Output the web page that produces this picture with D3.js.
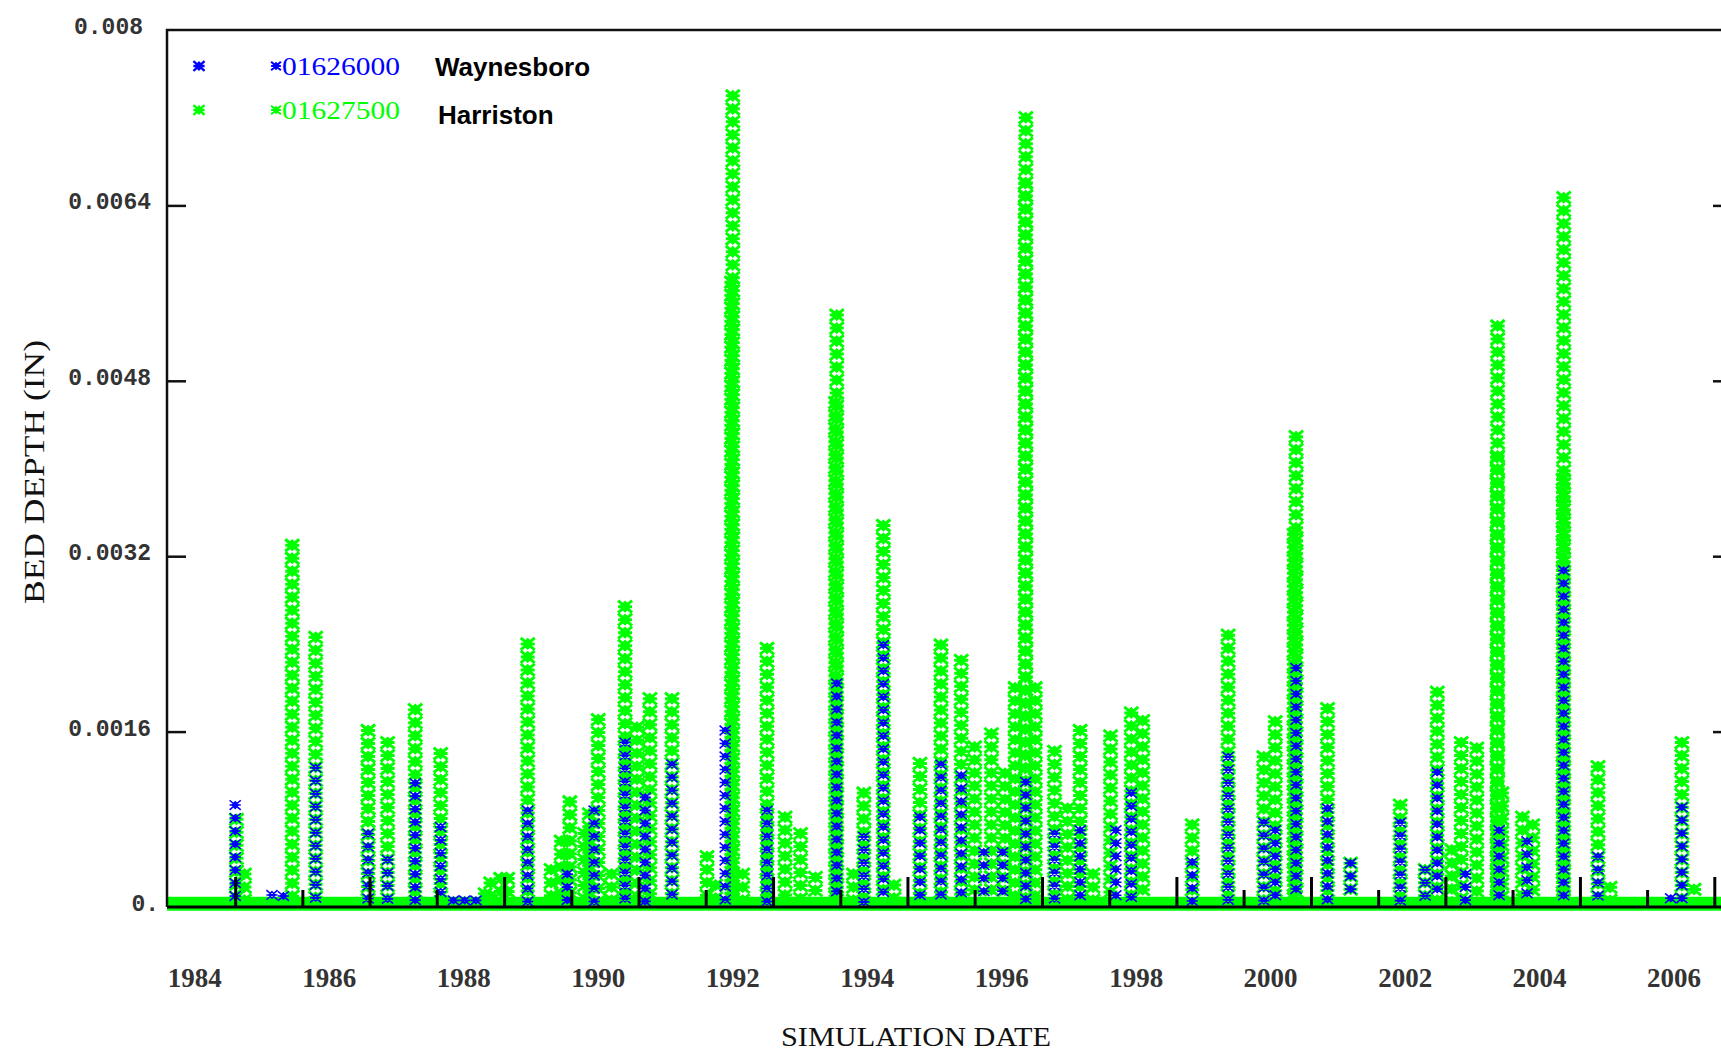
<!DOCTYPE html>
<meta charset="utf-8">
<style>
body { margin: 0; background: #fff; }
</style>
<svg width="1721" height="1056"></svg>
<script src="https://cdn.jsdelivr.net/npm/d3@7/dist/d3.min.js"></script>
<script>

// 01626000 Waynesboro (blue): event dates and peak bed depth (in)
var blueDates = ["1985-01-01", "1985-07-20", "1985-09-20", "1986-03-14", "1986-12-24", "1987-04-09",
  "1987-09-06", "1988-01-22", "1988-04-01", "1988-06-01", "1988-08-01", "1989-05-09", "1989-12-10",
  "1990-05-05", "1990-10-20", "1991-02-06", "1991-07-02", "1992-04-16", "1992-11-29", "1993-12-13",
  "1994-05-09", "1994-08-23", "1995-03-10", "1995-07-02", "1995-10-20", "1996-02-20", "1996-06-01",
  "1996-10-05", "1997-03-10", "1997-07-27", "1998-02-06", "1998-05-01", "1999-03-28", "1999-10-09",
  "2000-04-20", "2000-06-21", "2000-10-12", "2001-04-01", "2001-08-04", "2002-05-01", "2002-09-13",
  "2002-11-18", "2003-04-20", "2003-10-20", "2004-03-20", "2004-10-05", "2005-04-09", "2006-05-09",
  "2006-07-09"];
var blueValues = [0.00093, 0.00011, 0.0001, 0.00127, 0.00067, 0.00043,
  0.00113, 0.00073, 0.00006, 0.00006, 0.00006, 0.00088, 0.0003,
  0.00088, 0.0015, 0.001, 0.0013, 0.00161, 0.00088, 0.00204,
  0.00064, 0.00239, 0.00082, 0.0013, 0.0012, 0.0005, 0.0005,
  0.00114, 0.00067, 0.0007, 0.0007, 0.00104, 0.00041, 0.00137,
  0.00077, 0.0007, 0.00218, 0.0009, 0.0004, 0.00077, 0.00034,
  0.00123, 0.0003, 0.0007, 0.0006, 0.00307, 0.00046, 0.00008,
  0.00091];

// 01627500 Harriston (green)
var greenDates = ["1985-01-08", "1985-02-20", "1985-11-07", "1986-03-14", "1986-12-24", "1987-04-09",
  "1987-09-06", "1988-01-22", "1988-09-20", "1988-10-20", "1988-12-13", "1989-01-20", "1989-05-09",
  "1989-09-13", "1989-11-07", "1989-12-24", "1990-03-14", "1990-04-09", "1990-05-27", "1990-08-08",
  "1990-10-20", "1990-12-24", "1991-03-04", "1991-07-02", "1992-01-08", "1992-02-24", "1992-05-20",
  "1992-05-27", "1992-07-20", "1992-11-29", "1993-03-07", "1993-05-30", "1993-08-19", "1993-12-06",
  "1993-12-13", "1994-03-14", "1994-05-09", "1994-08-23", "1994-10-20", "1995-03-10", "1995-07-02",
  "1995-10-20", "1996-01-01", "1996-04-01", "1996-06-14", "1996-08-08", "1996-10-02", "1996-10-05",
  "1996-11-25", "1997-03-10", "1997-05-20", "1997-07-27", "1997-10-05", "1998-01-08", "1998-05-01",
  "1998-07-02", "1999-03-28", "1999-10-09", "2000-04-20", "2000-06-21", "2000-10-01", "2000-10-12",
  "2001-04-01", "2001-08-04", "2002-05-01", "2002-09-13", "2002-11-18", "2003-02-06", "2003-03-28",
  "2003-06-21", "2003-10-09", "2003-10-12", "2003-11-04", "2004-02-24", "2004-04-20", "2004-10-02",
  "2004-10-05", "2005-04-09", "2005-06-14", "2006-07-09", "2006-09-13"];
var greenValues = [0.0008, 0.0003, 0.0033, 0.00246, 0.00161, 0.0015,
  0.0018, 0.0014, 0.00012, 0.00022, 0.00026, 0.00026, 0.0024,
  0.00034, 0.0006, 0.00096, 0.00067, 0.00085, 0.00171, 0.0003,
  0.00274, 0.00164, 0.0019, 0.0019, 0.00046, 0.0002, 0.0057,
  0.0074, 0.0003, 0.00236, 0.00082, 0.00067, 0.00027, 0.0046,
  0.0054, 0.0003, 0.00104, 0.00348, 0.0002, 0.00131, 0.00239,
  0.00225, 0.00146, 0.00158, 0.00122, 0.002, 0.0066, 0.0072,
  0.002, 0.00142, 0.0009, 0.00161, 0.0003, 0.00156, 0.00177,
  0.0017, 0.00075, 0.00248, 0.00137, 0.00169, 0.0034, 0.00429,
  0.00181, 0.0004, 0.00093, 0.00034, 0.00196, 0.00052, 0.0015,
  0.00145, 0.0041, 0.0053, 0.00104, 0.00082, 0.00075, 0.0039,
  0.00647, 0.00128, 0.00018, 0.0015, 0.00016];

var zeroValue = 0.00002;   // most days sit on the floor
var yTickValues = [0, 0.0016, 0.0032, 0.0048, 0.0064, 0.008];
var yTickLabels = ["0.", "0.0016", "0.0032", "0.0048", "0.0064", "0.008"];
var yearLabels = [1984, 1986, 1988, 1990, 1992, 1994, 1996, 1998, 2000, 2002, 2004, 2006];
var legendCodes = ["01626000", "01627500"];
var legendNames = ["Waynesboro", "Harriston"];
var seriesColors = ["#0000ff", "#00ff00"];

var svg = d3.select("svg");
svg.append("rect").attr("width", "100%").attr("height", "100%").attr("fill", "#fff");

var parseDate = d3.timeParse("%Y-%m-%d");
var x = d3.scaleTime()
  .domain([new Date(1984, 0, 1), new Date(2007, 0, 1)])
  .range([167.8, 1714.3]);
var y = d3.scaleLinear().domain([0, 0.008]).range([907, 30]);

var plotLeft = 167, plotRight = 1732;

// bitmap-like asterisk marker: X, bar and a solid diamond core
var glyph = "M-7,-6L7,6M-7,6L7,-6M-7,0L7,0M0,-4L4,0L0,4L-4,0Z";
var glyphStep = 13;

function stack(dates, values) {
  var pts = [];
  dates.forEach(function(d, i) {
    var px = x(parseDate(d)), top = y(values[i]), bottom = y(0) - 5;
    for (var py = top; py <= bottom; py += glyphStep) pts.push([px, py]);
    if (top > bottom) pts.push([px, bottom]);
  });
  return pts;
}

// zero-day band along the floor
svg.append("line")
  .attr("x1", plotLeft).attr("x2", plotRight)
  .attr("y1", y(zeroValue) - 1).attr("y2", y(zeroValue) - 1)
  .attr("stroke", seriesColors[1]).attr("stroke-width", 14);

// green first, blue as smaller open asterisks over it so both read
var layers = [
  { dates: greenDates, values: greenValues, color: seriesColors[1], width: 3, fill: seriesColors[1], k: 1 },
  { dates: blueDates, values: blueValues, color: seriesColors[0], width: 2, fill: "none", k: 0.8 }
];
layers.forEach(function(s) {
  svg.append("g")
    .selectAll("path")
    .data(stack(s.dates, s.values))
    .enter().append("path")
    .attr("d", glyph)
    .attr("transform", function(p) { return "translate(" + p[0] + "," + p[1] + ") scale(" + s.k + ")"; })
    .attr("stroke", s.color)
    .attr("fill", s.fill)
    .attr("stroke-width", s.width);
});

// frame
svg.append("path")
  .attr("d", "M" + plotLeft + "," + y(0) + "V" + y(0.008) + "H" + plotRight)
  .attr("fill", "none").attr("stroke", "#111").attr("stroke-width", 2.5);
svg.append("line")
  .attr("x1", plotLeft).attr("x2", plotRight).attr("y1", y(0)).attr("y2", y(0))
  .attr("stroke", "#000").attr("stroke-width", 3);

// y ticks, inside on both sides
svg.append("g").attr("transform", "translate(" + plotLeft + ",0)")
  .call(d3.axisRight(y).tickValues(yTickValues.slice(1, 5)).tickSize(19).tickFormat(""))
  .call(function(g) { g.select(".domain").remove(); g.selectAll("line").attr("stroke", "#111").attr("stroke-width", 2.5); });
svg.append("g").attr("transform", "translate(" + plotRight + ",0)")
  .call(d3.axisLeft(y).tickValues(yTickValues.slice(1, 5)).tickSize(19).tickFormat(""))
  .call(function(g) { g.select(".domain").remove(); g.selectAll("line").attr("stroke", "#111").attr("stroke-width", 2.5); });

// x ticks every year: odd years long, even years short
var years = d3.range(1985, 2008).map(function(yr) { return new Date(yr, 0, 1); });
[[1, 30], [0, 17]].forEach(function(t) {
  svg.append("g").attr("transform", "translate(0," + y(0) + ")")
    .call(d3.axisTop(x).tickValues(years.filter(function(d) { return d.getFullYear() % 2 === t[0]; }))
      .tickSize(t[1]).tickFormat(""))
    .call(function(g) { g.select(".domain").remove(); g.selectAll("line").attr("stroke", "#000").attr("stroke-width", 3); });
});

// tick labels
svg.append("g").selectAll("text").data(yTickValues).enter().append("text")
  .attr("x", function(d) { return d === 0 ? 159 : (d === 0.008 ? 143 : 151); })
  .attr("y", function(d) { return y(d) - 2; })
  .attr("text-anchor", "end").attr("dominant-baseline", "central")
  .attr("font-family", "'Liberation Mono', monospace").attr("font-weight", "bold")
  .attr("font-size", 23).attr("fill", "#333")
  .text(function(d, i) { return yTickLabels[i]; });

svg.append("g").selectAll("text").data(yearLabels).enter().append("text")
  .attr("x", function(d) { return x(new Date(d, 0, 1)); })
  .attr("y", 987)
  .attr("font-family", "'Liberation Serif', serif").attr("font-weight", "bold")
  .attr("font-size", 28).attr("fill", "#333")
  .attr("textLength", 54).attr("lengthAdjust", "spacingAndGlyphs")
  .text(function(d) { return d; });

// axis titles
svg.append("text")
  .attr("x", 781).attr("y", 1046)
  .attr("font-family", "'Liberation Serif', serif").attr("font-size", 28).attr("fill", "#111")
  .attr("textLength", 270).attr("lengthAdjust", "spacingAndGlyphs")
  .text("SIMULATION DATE");
svg.append("text")
  .attr("transform", "translate(33,472) rotate(-90)")
  .attr("x", -132).attr("dominant-baseline", "central")
  .attr("font-family", "'Liberation Serif', serif").attr("font-size", 30).attr("fill", "#111")
  .attr("textLength", 264).attr("lengthAdjust", "spacingAndGlyphs")
  .text("BED DEPTH (IN)");

// legend
var legend = svg.append("g").selectAll("g").data(legendCodes).enter().append("g")
  .attr("transform", function(d, i) { return "translate(0," + (66 + i * 44) + ")"; });
legend.append("path").attr("d", glyph).attr("transform", "translate(199,0) scale(0.8)")
  .attr("stroke", function(d, i) { return seriesColors[i]; })
  .attr("fill", function(d, i) { return seriesColors[i]; }).attr("stroke-width", 3);
legend.append("path").attr("d", glyph).attr("transform", "translate(276,0) scale(0.7)")
  .attr("stroke", function(d, i) { return seriesColors[i]; })
  .attr("fill", function(d, i) { return seriesColors[i]; }).attr("stroke-width", 3);
legend.append("text")
  .attr("x", 282).attr("dominant-baseline", "central")
  .attr("font-family", "'Liberation Serif', serif").attr("font-size", 25)
  .attr("fill", function(d, i) { return seriesColors[i]; })
  .attr("textLength", 118).attr("lengthAdjust", "spacingAndGlyphs")
  .text(function(d) { return d; });
legend.append("text")
  .attr("x", function(d, i) { return i === 0 ? 435 : 438; })
  .attr("y", function(d, i) { return i === 0 ? 10 : 14; })
  .attr("font-family", "'Liberation Sans', Arial, sans-serif").attr("font-weight", "bold")
  .attr("font-size", 26).attr("fill", "#000")
  .text(function(d, i) { return legendNames[i]; });

</script>
